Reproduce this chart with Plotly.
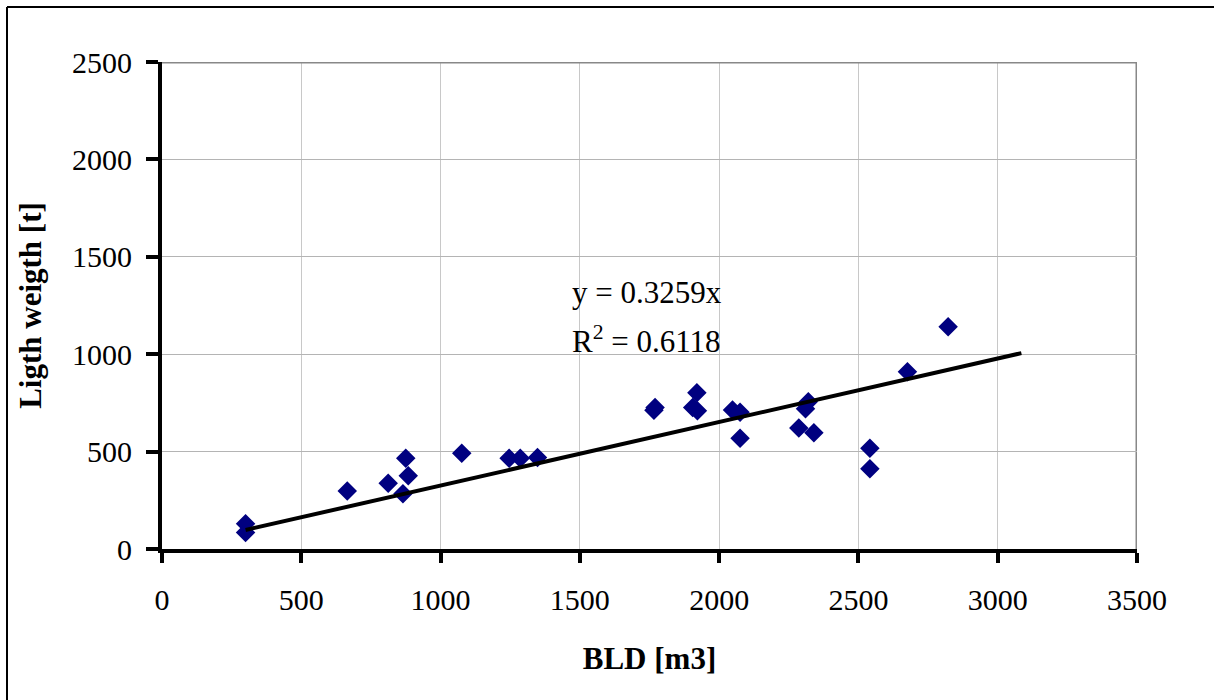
import plotly.graph_objects as go

# Data
bld = [300, 300, 665, 812, 875, 884, 865, 1076, 1246, 1286, 1348, 1766, 1770,
       1920, 1905, 1922, 2048, 2075, 2075, 2320, 2310, 2286, 2340, 2541, 2541,
       2676, 2822]
weight = [130, 85, 298, 337, 466, 376, 283, 491, 466, 466, 470, 712, 727,
          802, 727, 710, 714, 702, 568, 756, 720, 621, 597, 517, 412,
          910, 1141]

slope = 0.3259
r2 = 0.6118
trend_x = [300, 3085]
trend_y = [slope * x for x in trend_x]

x_ticks = [0, 500, 1000, 1500, 2000, 2500, 3000, 3500]
y_ticks = [0, 500, 1000, 1500, 2000, 2500]

FONT = "Liberation Serif, Times New Roman, serif"

fig = go.Figure()
fig.add_trace(go.Scatter(
    x=bld, y=weight, mode="markers",
    marker=dict(symbol="diamond", size=15, color="#000080",
                line=dict(width=0)),
    showlegend=False, cliponaxis=False))
fig.add_trace(go.Scatter(
    x=trend_x, y=trend_y, mode="lines",
    line=dict(color="black", width=4),
    showlegend=False))

fig.update_layout(
    width=1214, height=700,
    margin=dict(l=162, r=77, t=62, b=151),
    paper_bgcolor="white", plot_bgcolor="white",
    font=dict(family=FONT, size=30, color="black"),
    xaxis=dict(
        range=[0, 3500], tickvals=x_ticks, ticktext=[str(v) for v in x_ticks],
        showgrid=True, gridcolor="#c8c8c8", gridwidth=1,
        showline=True, linecolor="black", linewidth=4,
        ticks="outside", ticklen=10, tickwidth=4, tickcolor="black",
        ticklabelstandoff=11,
        zeroline=False, automargin=False,
        title=dict(text="<b>BLD [m3]</b>", font=dict(size=31, family=FONT),
                   standoff=33),
    ),
    yaxis=dict(
        range=[0, 2500], tickvals=y_ticks, ticktext=[str(v) for v in y_ticks],
        showgrid=True, gridcolor="#b4b4b4", gridwidth=1,
        showline=True, linecolor="black", linewidth=4,
        ticks="outside", ticklen=12, tickwidth=4, tickcolor="black",
        ticklabelstandoff=8,
        zeroline=False, automargin=False,
        title=dict(text="<b>Ligth weigth [t]</b>", font=dict(size=31, family=FONT),
                   standoff=22),
    ),
    shapes=[
        dict(type="line", xref="x", yref="y", x0=0, x1=3500, y0=2500, y1=2500,
             line=dict(color="#888888", width=3), layer="above"),
        dict(type="line", xref="x", yref="y", x0=3500, x1=3500, y0=0, y1=2500,
             line=dict(color="#888888", width=3), layer="below"),
        dict(type="line", xref="paper", yref="paper",
             x0=(7 - 162) / 975, x1=(1214 - 162) / 975,
             y0=(549 - 7) / 487, y1=(549 - 7) / 487,
             line=dict(color="black", width=2)),
        dict(type="line", xref="paper", yref="paper",
             x0=(7 - 162) / 975, x1=(7 - 162) / 975,
             y0=(549 - 7) / 487, y1=(549 - 700) / 487,
             line=dict(color="black", width=2)),
    ],
    annotations=[
        dict(x=1741, y=1319, xref="x", yref="y",
             text=f"y = {slope}x", showarrow=False,
             font=dict(size=31, family=FONT)),
        dict(x=1741, y=1073, xref="x", yref="y",
             text=f"R<sup>2</sup> = {r2}", showarrow=False,
             font=dict(size=31, family=FONT)),
    ],
)

fig.write_html("out.html", config={"displayModeBar": False},
               post_script="document.body.style.margin='0px';")
